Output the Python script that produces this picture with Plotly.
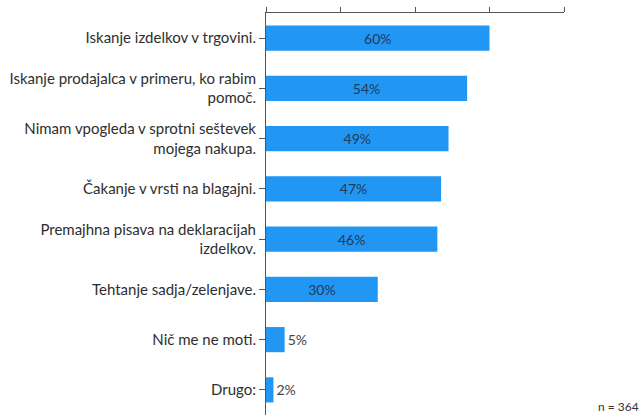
import plotly.graph_objects as go

categories = [
    "Iskanje izdelkov v trgovini.",
    "Iskanje prodajalca v primeru, ko rabim<br>pomoč.",
    "Nimam vpogleda v sprotni seštevek<br>mojega nakupa.",
    "Čakanje v vrsti na blagajni.",
    "Premajhna pisava na deklaracijah<br>izdelkov.",
    "Tehtanje sadja/zelenjave.",
    "Nič me ne moti.",
    "Drugo:",
]
values = [60, 54, 49, 47, 46, 30, 5, 2]
sample_note = "n = 364"

label_text = [f"{v}%" for v in values]
positions = ["inside" if v >= 10 else "outside" for v in values]

fig = go.Figure(
    go.Bar(
        x=[v / 100 for v in values],
        y=categories,
        orientation="h",
        width=0.5,
        marker=dict(color="#2196F3", line=dict(width=0)),
        text=label_text,
        textposition=positions,
        insidetextanchor="middle",
        textangle=0,
        insidetextfont=dict(color="#23395d", size=14),
        outsidetextfont=dict(color="#444444", size=14),
        cliponaxis=False,
    )
)

fig.update_layout(
    width=641,
    height=415,
    margin=dict(l=266, r=77, t=13, b=0),
    paper_bgcolor="white",
    plot_bgcolor="white",
    font=dict(family="Lato, Carlito, sans-serif", size=13, color="#333333"),
    showlegend=False,
    bargap=0.5,
    uniformtext=dict(mode=False),
)

fig.update_xaxes(
    side="top",
    range=[0, 0.8],
    dtick=0.2,
    showticklabels=False,
    ticks="outside",
    ticklen=5,
    tickcolor="#555555",
    showline=True,
    linecolor="#555555",
    linewidth=1,
    showgrid=False,
    zeroline=False,
    fixedrange=True,
)

fig.update_yaxes(
    categoryorder="array",
    categoryarray=categories[::-1],
    ticks="outside",
    ticklen=6,
    tickcolor="#555555",
    showline=True,
    linecolor="#555555",
    linewidth=1,
    showgrid=False,
    tickfont=dict(size=15, color="#2e2e2e"),
    fixedrange=True,
)

fig.add_annotation(
    text=sample_note,
    xref="paper", yref="paper",
    x=1.0, y=0.0,
    xshift=77,
    yshift=-1,
    xanchor="right", yanchor="bottom",
    showarrow=False,
    font=dict(size=12, color="#333333"),
)

fig.write_html("out.html")
